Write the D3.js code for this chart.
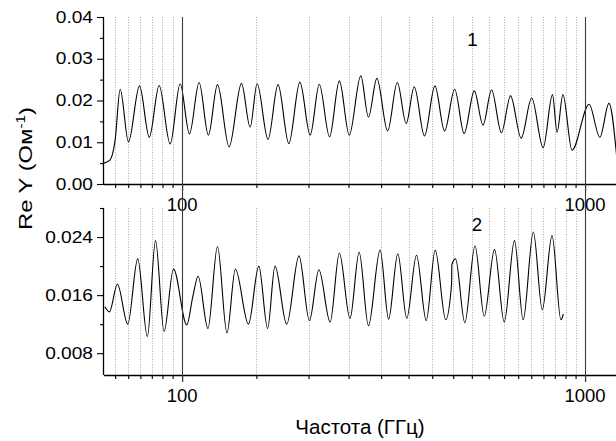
<!DOCTYPE html>
<html><head><meta charset="utf-8">
<script src="https://cdn.jsdelivr.net/npm/d3@7"></script>
<style>
html,body{margin:0;padding:0;background:#fff;}
text{font-family:"Liberation Sans",Arial,sans-serif;fill:#000;}
</style></head>
<body><svg id="c" width="616" height="441"></svg>
<script>
// ---- data ----
const freq1 = [64.0, 66.2, 68.2, 70.2, 73.6, 78.4, 82.9, 87.7, 93.4, 98.9, 104.3, 110.2, 116.2, 122.4, 130.8, 140.4, 147.5, 153.5, 163.4, 173.0, 184.0, 196.0, 207.9, 219.0, 232.2, 245.6, 259.9, 277.6, 290.0, 304.3, 323.6, 342.0, 359.8, 376.7, 399.5, 424.0, 448.0, 474.7, 501.0, 531.0, 558.0, 586.0, 620.0, 653.0, 694.0, 737.0, 787.0, 830.0, 852.0, 881.0, 928.0, 1023.0, 1088.0, 1146.0, 1200.0];
const val1  = [0.0050, 0.0057, 0.0105, 0.0227, 0.0101, 0.0235, 0.0112, 0.0236, 0.0096, 0.0240, 0.0120, 0.0243, 0.0117, 0.0238, 0.0089, 0.0241, 0.0136, 0.0240, 0.0107, 0.0238, 0.0097, 0.0244, 0.0117, 0.0239, 0.0113, 0.0247, 0.0117, 0.0259, 0.0160, 0.0253, 0.0127, 0.0243, 0.0145, 0.0233, 0.0115, 0.0235, 0.0127, 0.0227, 0.0121, 0.0223, 0.0141, 0.0225, 0.0123, 0.0211, 0.0110, 0.0206, 0.0087, 0.0214, 0.0124, 0.0214, 0.0081, 0.0191, 0.0112, 0.0193, 0.0058];

const freq2 = [64.3, 66.0, 69.1, 73.3, 77.6, 82.0, 85.9, 90.2, 95.2, 102.7, 106.3, 109.6, 115.9, 122.4, 129.2, 135.6, 146.1, 155.0, 163.0, 170.0, 181.8, 195.0, 207.0, 218.5, 233.0, 245.6, 261.0, 275.0, 290.0, 310.0, 325.4, 343.0, 361.0, 381.6, 403.5, 424.7, 451.0, 466.4, 466.9, 477.0, 503.0, 533.0, 562.0, 596.0, 630.0, 668.0, 702.0, 744.0, 783.0, 828.0, 871.0, 883.0];
const val2  = [0.0144, 0.0137, 0.0175, 0.0120, 0.0210, 0.0103, 0.0235, 0.0110, 0.0196, 0.0119, 0.0158, 0.0186, 0.0114, 0.0227, 0.0108, 0.0196, 0.0120, 0.0200, 0.0114, 0.0200, 0.0120, 0.0214, 0.0125, 0.0195, 0.0123, 0.0218, 0.0128, 0.0219, 0.0118, 0.0222, 0.0127, 0.0217, 0.0128, 0.0215, 0.0125, 0.0222, 0.0126, 0.0176, 0.0202, 0.0210, 0.0122, 0.0228, 0.0131, 0.0223, 0.0123, 0.0235, 0.0126, 0.0247, 0.0140, 0.0242, 0.0126, 0.0134];

const xMajorTicks = [100, 1000];
const xMajorLabels = ["100", "1000"];
const xMinorTicks = [68.2, 73.5, 78.8, 84.1, 89.4, 94.7, 152.9, 205.9, 258.8, 311.8, 364.7, 417.6, 470.6, 523.5, 576.5, 629.4, 682.4, 735.3, 788.2, 841.2, 894.1, 947.1];

const yTicks1 = [0, 0.01, 0.02, 0.03, 0.04];
const yLabels1 = ["0.00", "0.01", "0.02", "0.03", "0.04"];
const yMinor1 = [0.005, 0.015, 0.025, 0.035];
const yTicks2 = [0.008, 0.016, 0.024];
const yLabels2 = ["0.008", "0.016", "0.024"];
const yMinor2 = [0.012, 0.020, 0.028];

const curveLabels = ["1", "2"];
const xTitle = "Частота (ГГц)";

// ---- drawing ----
const svg = d3.select("#c");
const L = 104, R = 617;
const x = d3.scaleLog().domain([64, 1200]).range([L, R]);

const panels = [
  {top: 17, bottom: 184, dom: [0, 0.04], ticks: yTicks1, labels: yLabels1, minor: yMinor1, fx: freq1, vy: val1, lab: curveLabels[0], labPos: [472.5, 45.7]},
  {top: 208, bottom: 375, dom: [0.005, 0.028], ticks: yTicks2, labels: yLabels2, minor: yMinor2, fx: freq2, vy: val2, lab: curveLabels[1], labPos: [477, 230.7]}
];

svg.append("defs").append("clipPath").attr("id", "clipAll")
  .append("rect").attr("x", L).attr("y", 0).attr("width", 616 - L + 1).attr("height", 441);

panels.forEach((p, i) => {
  const y = d3.scaleLinear().domain(p.dom).range([p.bottom, p.top]);
  const g = svg.append("g");

  // dotted grid at minor x ticks
  g.selectAll("line.grid").data(xMinorTicks).join("line")
    .attr("x1", d => Math.round(x(d)) + 0.5).attr("x2", d => Math.round(x(d)) + 0.5)
    .attr("y1", p.top).attr("y2", p.bottom)
    .attr("stroke", "#a8a8a8").attr("stroke-width", 1).attr("stroke-dasharray", "1,1.6");

  // curve
  const line = d3.line().x(d => x(d[0])).y(d => y(d[1])).curve(d3.curveMonotoneX);
  g.append("path").datum(d3.zip(p.fx, p.vy))
    .attr("d", line).attr("fill", "none").attr("stroke", "#000").attr("stroke-width", 1.1)
    .attr("clip-path", "url(#clipAll)");

  // x axis: minor and major
  const axMinor = d3.axisBottom(x).tickValues(xMinorTicks).tickSize(4).tickSizeOuter(0).tickFormat("");
  const axMajor = d3.axisBottom(x).tickValues(xMajorTicks).tickSize(7).tickSizeOuter(0).tickFormat("");
  const gx = g.append("g").attr("transform", `translate(0,${p.bottom})`);
  gx.append("g").call(axMinor);
  gx.append("g").call(axMajor).select(".domain").remove();
  gx.selectAll(".domain").attr("d", `M${L},0.5H616`).attr("stroke-width", 1.3);
  gx.selectAll(".tick line").attr("stroke-width", 1.1);

  xMajorTicks.forEach((t, k) => {
    g.append("text").attr("x", x(t)).attr("y", p.bottom + 27)
      .attr("text-anchor", "middle").attr("font-size", 18.5).text(xMajorLabels[k]);
  });

  // y axis
  const ayMinor = d3.axisLeft(y).tickValues(p.minor).tickSize(4).tickSizeOuter(0).tickFormat("");
  const ayMajor = d3.axisLeft(y).tickValues(p.ticks).tickSize(7).tickSizeOuter(0).tickFormat("");
  const gy = g.append("g").attr("transform", `translate(${L},0)`);
  gy.append("g").call(ayMinor);
  gy.append("g").call(ayMajor).select(".domain").remove();
  gy.selectAll(".domain").attr("d", `M-0.5,${p.top}V${p.bottom}`).attr("stroke-width", 1.3);
  gy.selectAll(".tick line").attr("stroke-width", 1.1);

  p.ticks.forEach((t, k) => {
    g.append("text").attr("transform", `translate(93,${y(t) + 5.7}) scale(1.18,1)`)
      .attr("text-anchor", "end").attr("font-size", 16.2).text(p.labels[k]);
  });

  // curve label
  g.append("text").attr("x", p.labPos[0]).attr("y", p.labPos[1])
    .attr("text-anchor", "middle").attr("font-size", 18.6).text(p.lab);
});

// major vertical lines through both panels
svg.selectAll("line.major").data(xMajorTicks).join("line")
  .attr("x1", d => Math.round(x(d)) + 0.5).attr("x2", d => Math.round(x(d)) + 0.5)
  .attr("y1", 17).attr("y2", 382)
  .attr("stroke", "#3a3a3a").attr("stroke-width", 1.1);

// axis titles
svg.append("text").attr("x", 360).attr("y", 434).attr("text-anchor", "middle")
  .attr("font-size", 20.5).text(xTitle);

const yt = svg.append("text").attr("transform", "translate(32,168.5) rotate(-90) scale(1.28,1)")
  .attr("text-anchor", "middle").attr("font-size", 18.6);
yt.append("tspan").text("Re Y (Ом");
yt.append("tspan").attr("font-size", 12).attr("dy", -7).text("-1");
yt.append("tspan").attr("dy", 7).text(")");
</script></body></html>
